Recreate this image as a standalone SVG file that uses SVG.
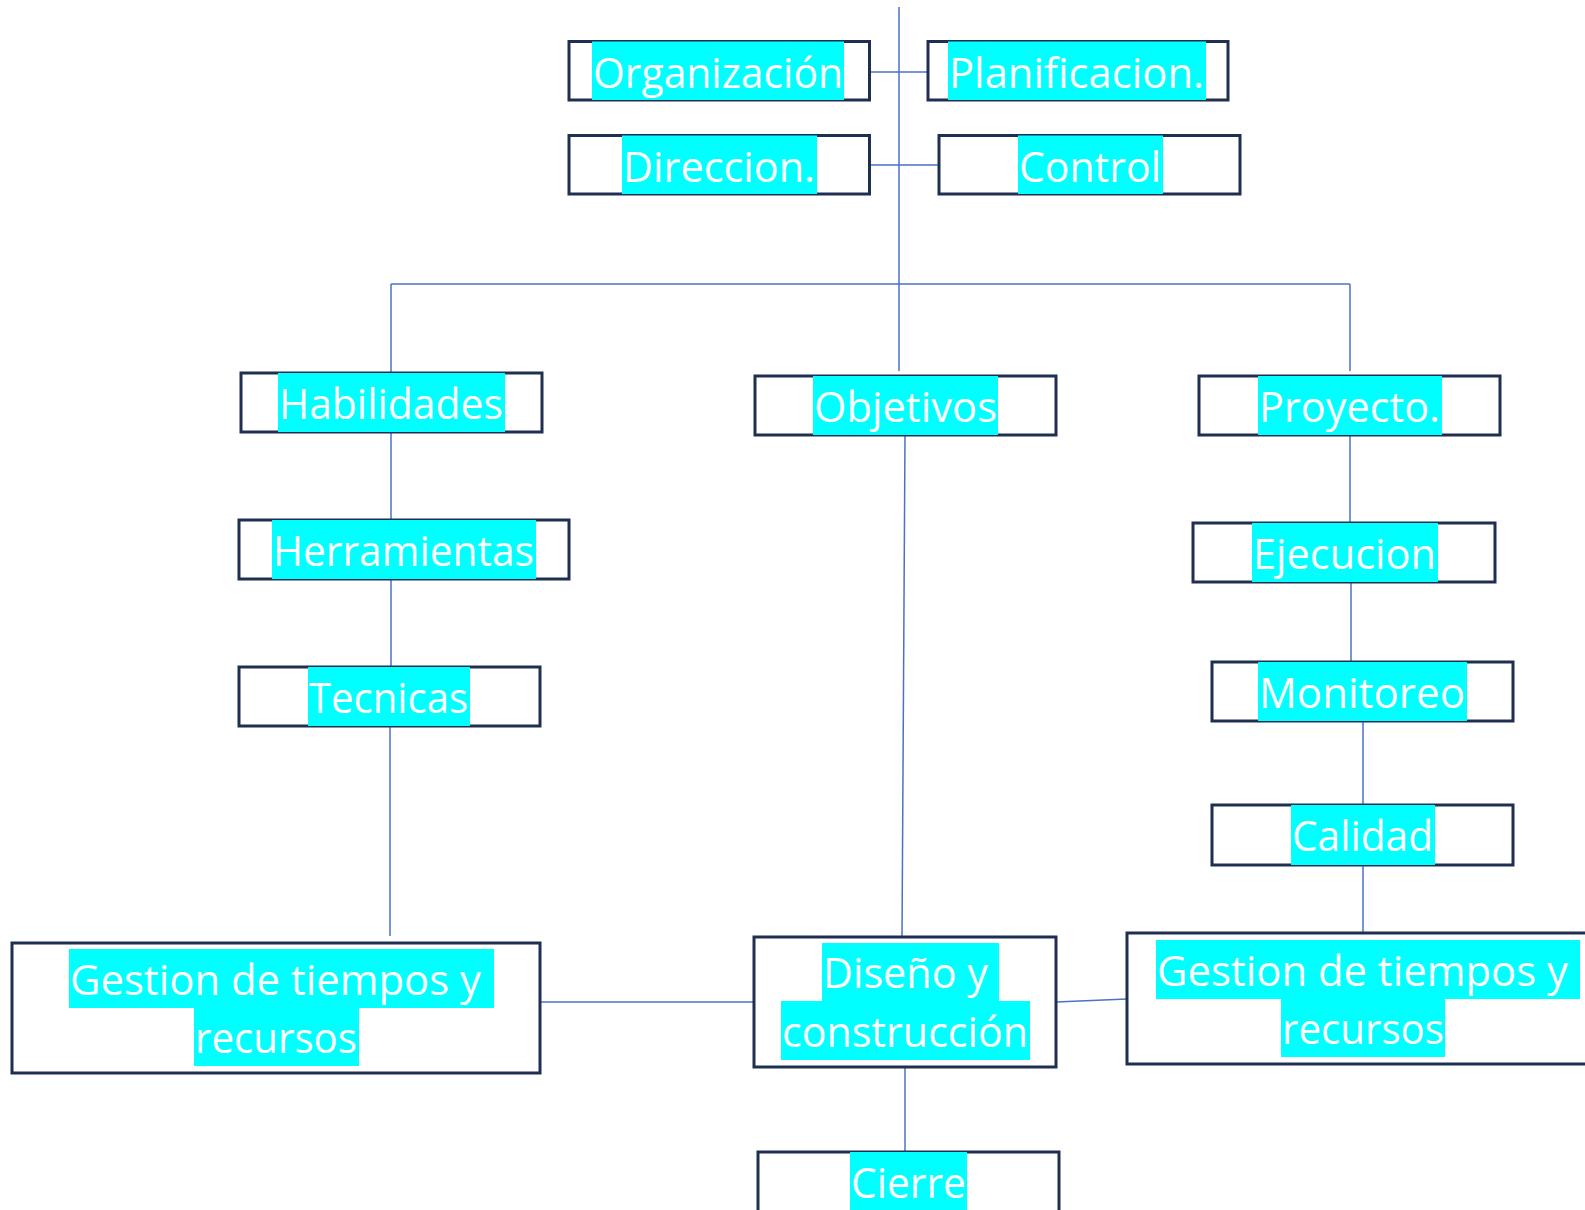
<svg xmlns="http://www.w3.org/2000/svg" width="1585" height="1210" viewBox="0 0 1585 1210">
<style>
.box{fill:#ffffff;stroke:#1F2F52;stroke-width:3}
.hl{fill:#00FFFF}
.t{font-family:"Open Sans","Noto Sans","Liberation Sans",sans-serif;font-size:42px;fill:#ffffff}
.c{stroke:#4A72C8;stroke-width:1.5;fill:none}
</style>
<rect x="0" y="0" width="1585" height="1210" fill="#ffffff"/>
<g id="connectors">
<path class="c" d="M899 7 V371"/>
<path class="c" d="M869.5 72 H928"/>
<path class="c" d="M869.5 165 H939"/>
<path class="c" d="M391 284 H1350"/>
<path class="c" d="M391 284 V373"/>
<path class="c" d="M1350 284 V371"/>
<path class="c" d="M391 432 V520"/>
<path class="c" d="M391 579 V667"/>
<path class="c" d="M390 726 V936"/>
<path class="c" d="M905 435 L902 937"/>
<path class="c" d="M540 1002 H754"/>
<path class="c" d="M1056 1002 L1127 999"/>
<path class="c" d="M905 1067 V1152"/>
<path class="c" d="M1350 435 V523"/>
<path class="c" d="M1351 582 V662"/>
<path class="c" d="M1363 722 V805"/>
<path class="c" d="M1363 865 V933"/>
</g>
<g id="organizacion">
<rect class="box" x="569" y="41.5" width="300.5" height="58.5"/>
<rect class="hl" x="592" y="41.5" width="252" height="58.5"/>
<text class="t" x="593" y="87.5" textLength="250" lengthAdjust="spacingAndGlyphs">Organización</text>
</g>
<g id="planificacion">
<rect class="box" x="928" y="41.5" width="300" height="58.5"/>
<rect class="hl" x="948" y="41.5" width="258" height="58.5"/>
<text class="t" x="949" y="87.5" textLength="255" lengthAdjust="spacingAndGlyphs">Planificacion.</text>
</g>
<g id="direccion">
<rect class="box" x="569" y="135.5" width="300.5" height="58.5"/>
<rect class="hl" x="622" y="135.5" width="195" height="58.5"/>
<text class="t" x="623" y="181.5" textLength="192" lengthAdjust="spacingAndGlyphs">Direccion.</text>
</g>
<g id="control">
<rect class="box" x="939" y="135.5" width="301" height="58.5"/>
<rect class="hl" x="1018" y="135.5" width="145" height="58.5"/>
<text class="t" x="1019" y="181.5" textLength="142" lengthAdjust="spacingAndGlyphs">Control</text>
</g>
<g id="habilidades">
<rect class="box" x="241" y="373" width="301" height="59"/>
<rect class="hl" x="278" y="373" width="227" height="59"/>
<text class="t" x="279" y="419" textLength="224" lengthAdjust="spacingAndGlyphs">Habilidades</text>
</g>
<g id="objetivos">
<rect class="box" x="755" y="376" width="301" height="59"/>
<rect class="hl" x="813" y="376" width="185" height="59"/>
<text class="t" x="814" y="422" textLength="183" lengthAdjust="spacingAndGlyphs">Objetivos</text>
</g>
<g id="proyecto">
<rect class="box" x="1199" y="376" width="301" height="59"/>
<rect class="hl" x="1258" y="376" width="184" height="59"/>
<text class="t" x="1259" y="422" textLength="181" lengthAdjust="spacingAndGlyphs">Proyecto.</text>
</g>
<g id="herramientas">
<rect class="box" x="239" y="520" width="330" height="59"/>
<rect class="hl" x="272" y="520" width="264" height="59"/>
<text class="t" x="273" y="566" textLength="261" lengthAdjust="spacingAndGlyphs">Herramientas</text>
</g>
<g id="tecnicas">
<rect class="box" x="239" y="667" width="301" height="59"/>
<rect class="hl" x="308" y="667" width="162" height="59"/>
<text class="t" x="309" y="713" textLength="159" lengthAdjust="spacingAndGlyphs">Tecnicas</text>
</g>
<g id="ejecucion">
<rect class="box" x="1193" y="523" width="302" height="59"/>
<rect class="hl" x="1252" y="523" width="186" height="59"/>
<text class="t" x="1253" y="569" textLength="183" lengthAdjust="spacingAndGlyphs">Ejecucion</text>
</g>
<g id="monitoreo">
<rect class="box" x="1212" y="662" width="301" height="59"/>
<rect class="hl" x="1258" y="662" width="209" height="59"/>
<text class="t" x="1259" y="708" textLength="206" lengthAdjust="spacingAndGlyphs">Monitoreo</text>
</g>
<g id="calidad">
<rect class="box" x="1212" y="805" width="301" height="60"/>
<rect class="hl" x="1291" y="805" width="144" height="60"/>
<text class="t" x="1292" y="851" textLength="141" lengthAdjust="spacingAndGlyphs">Calidad</text>
</g>
<g id="gestion-izq">
<rect class="box" x="12" y="943" width="528" height="130"/>
<rect class="hl" x="69" y="949" width="425" height="59"/>
<rect class="hl" x="194" y="1008" width="165" height="58"/>
<text class="t" x="70" y="995" textLength="411" lengthAdjust="spacingAndGlyphs">Gestion de tiempos y</text>
<text class="t" x="195" y="1053" textLength="162" lengthAdjust="spacingAndGlyphs">recursos</text>
</g>
<g id="diseno">
<rect class="box" x="754" y="937" width="302" height="130"/>
<rect class="hl" x="822" y="943" width="177" height="58"/>
<rect class="hl" x="781" y="1001" width="249" height="59"/>
<text class="t" x="823" y="988" textLength="165" lengthAdjust="spacingAndGlyphs">Diseño y</text>
<text class="t" x="782" y="1047" textLength="246" lengthAdjust="spacingAndGlyphs">construcción</text>
</g>
<g id="gestion-der">
<rect class="box" x="1127" y="933" width="480" height="131"/>
<rect class="hl" x="1156" y="940" width="424" height="59"/>
<rect class="hl" x="1281" y="999" width="164" height="58"/>
<text class="t" x="1157" y="986" textLength="411" lengthAdjust="spacingAndGlyphs">Gestion de tiempos y</text>
<text class="t" x="1282" y="1044" textLength="162" lengthAdjust="spacingAndGlyphs">recursos</text>
</g>
<g id="cierre">
<rect class="box" x="758" y="1152" width="301" height="80"/>
<rect class="hl" x="850" y="1152" width="117" height="70"/>
<text class="t" x="851" y="1198" textLength="115" lengthAdjust="spacingAndGlyphs">Cierre</text>
</g>
</svg>
